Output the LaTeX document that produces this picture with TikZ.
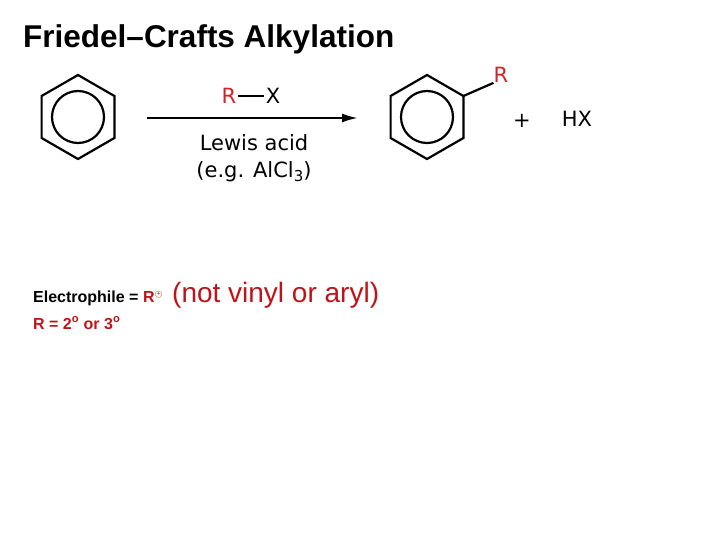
\documentclass[tikz,border=0pt]{standalone}
\usepackage{fontspec}
\usetikzlibrary{arrows.meta}
\setmainfont{Liberation Sans}
\newfontfamily\dv{DejaVu Sans}
\definecolor{rred}{RGB}{210,35,40}
\definecolor{dred}{RGB}{190,20,25}
\begin{document}
\begin{tikzpicture}[x=1pt,y=-1pt,
  bond/.style={line width=2.2pt,line join=miter},
  chem/.style={font=\dv\fontsize{21}{25}\selectfont,inner sep=0pt}]
\useasboundingbox (0,0) rectangle (720,540);
% benzene 1
\draw[bond,shift={(78,117)}] (0,-42) -- (36.4,-21) -- (36.4,21) -- (0,42) -- (-36.4,21) -- (-36.4,-21) -- cycle;
\draw[bond] (78,117) circle (26);
% benzene 2
\draw[bond,shift={(427,117)}] (0,-42) -- (36.4,-21) coordinate (ur) -- (36.4,21) -- (0,42) -- (-36.4,21) -- (-36.4,-21) -- cycle;
\draw[bond] (427,117) circle (26);
\node[chem,text=rred] (R2) at (501,75) {R};
\draw[bond] (ur) -- (R2.south west);
% arrow
\coordinate (a1) at (147,118);
\coordinate (a2) at (358,118);
\draw[line width=2.2pt,-{Latex[length=16pt,width=9pt]}] (a1) -- (a2);
\node[chem,text=rred] (R1) at (229,96) {R};
\node[chem] (X1) at (273,96) {X};
\draw[line width=2.2pt] ([xshift=2pt]R1.east) -- ([xshift=-2pt]X1.west);
\node[chem] (la) at (254,143) {Lewis acid};
\node[chem] (eg) at (254,172) {(e.g. AlCl\raisebox{-4pt}{\fontsize{15}{16}\selectfont 3})};
\node[chem] (plus) at (522,121) {+};
\node[chem] (hx) at (577,119) {HX};
% title
\node[anchor=base west,inner sep=0pt,font=\bfseries\fontsize{31.5}{36}\selectfont] (title) at (23,48) {Friedel–Crafts Alkylation};
% bottom text
\node[anchor=base west,inner sep=0pt,font=\bfseries\fontsize{16}{19}\selectfont] (el) at (33,302) {Electrophile = \textcolor{dred}{R\raisebox{6pt}{\fontsize{7}{8}\selectfont\textcircled{\tiny+}}}};
\node[anchor=base west,inner sep=0pt,font=\fontsize{28}{32}\selectfont,text=dred] (nv) at (172,302) {(not vinyl or aryl)};
\node[anchor=base west,inner sep=0pt,font=\bfseries\fontsize{16}{19}\selectfont,text=dred] (r23) at (33,329) {R = 2\textsuperscript{o} or 3\textsuperscript{o}};
\end{tikzpicture}
\end{document}
